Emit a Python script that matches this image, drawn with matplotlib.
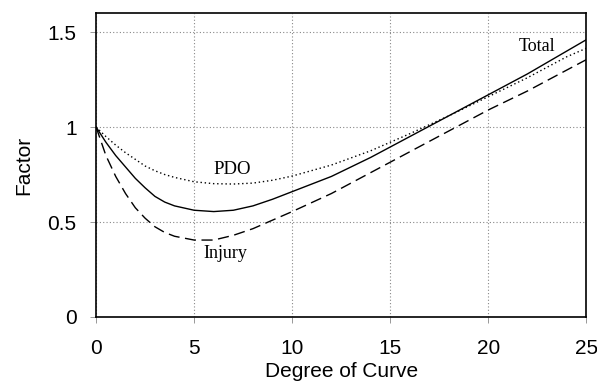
import matplotlib
matplotlib.use("Agg")
import matplotlib.pyplot as plt

degree = [0, 0.5, 1, 1.5, 2, 2.5, 3, 3.5, 4, 5, 6, 7, 8, 9, 10, 12, 14, 15, 16, 18, 20, 22, 24, 25]
total = [1.0, 0.92, 0.85, 0.79, 0.73, 0.68, 0.635, 0.605, 0.585, 0.562, 0.555, 0.562, 0.585, 0.62, 0.66, 0.74, 0.84, 0.895, 0.95, 1.06, 1.17, 1.28, 1.40, 1.46]
pdo = [1.0, 0.95, 0.905, 0.865, 0.83, 0.795, 0.77, 0.75, 0.735, 0.712, 0.702, 0.70, 0.705, 0.72, 0.742, 0.80, 0.875, 0.92, 0.965, 1.06, 1.16, 1.26, 1.37, 1.415]
injury = [1.0, 0.85, 0.74, 0.65, 0.575, 0.52, 0.475, 0.445, 0.425, 0.405, 0.405, 0.43, 0.465, 0.51, 0.555, 0.65, 0.76, 0.815, 0.87, 0.98, 1.09, 1.19, 1.30, 1.355]

xticks = [0, 5, 10, 15, 20, 25]
yticks = [0, 0.5, 1, 1.5]
ytick_labels = ["0", "0.5", "1", "1.5"]

fig = plt.figure(figsize=(5.97, 3.87), dpi=100)
ax = fig.add_axes([0.161, 0.181, 0.821, 0.785])

ax.plot(degree, total, color="black", lw=1.0, ls="-")
ax.plot(degree, pdo, color="black", lw=1.0, ls=(0, (1, 2)))
ax.plot(degree, injury, color="black", lw=1.0, ls=(0, (8, 4)))

ax.set_xlim(0, 25)
ax.set_ylim(0, 1.6)
ax.set_xticks(xticks)
ax.set_yticks(yticks)
ax.set_yticklabels(ytick_labels)
ax.grid(True, color="#888888", ls=(0, (1, 2)), lw=0.8)
ax.tick_params(direction="out", length=4, width=0.6, color="#888888",
               labelsize=15)
ax.tick_params(axis="x", pad=12)
ax.tick_params(axis="y", pad=10)
for lab in ax.get_xticklabels() + ax.get_yticklabels():
    lab.set_family("Liberation Sans")
for s in ax.spines.values():
    s.set_linewidth(1.2)
    s.set_color("black")

ax.set_xlabel("Degree of Curve", fontsize=15, family="Liberation Sans", labelpad=3)
ax.set_ylabel("Factor", fontsize=15, family="Liberation Sans", labelpad=10)

ax.text(6.94, 0.774, "PDO", fontsize=13.5, family="Liberation Serif", ha="center", va="center")
ax.text(6.6, 0.334, "Injury", fontsize=13, family="Liberation Serif", ha="center", va="center")
ax.text(22.5, 1.426, "Total", fontsize=13, family="Liberation Serif", ha="center", va="center")

fig.savefig("out.png", dpi=100)
